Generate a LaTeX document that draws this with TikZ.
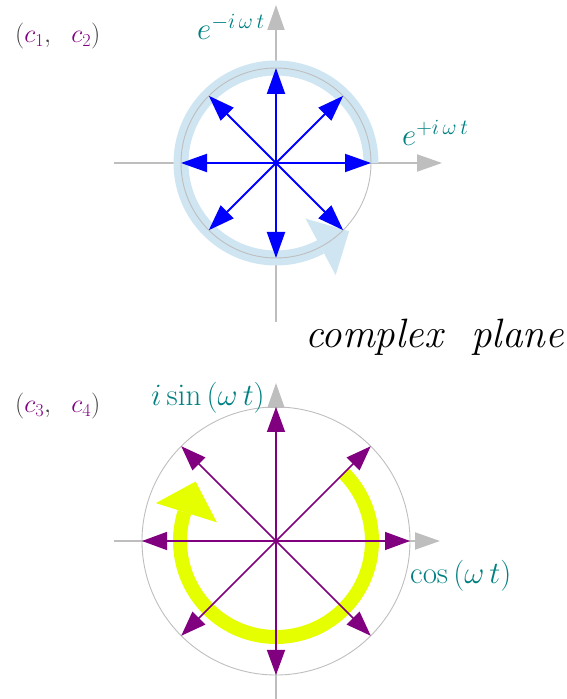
\RequirePackage{fix-cm}
\documentclass[tikz,border=0pt]{standalone}
\usepackage{amsmath,amssymb}
\usepackage{tikz}
\usetikzlibrary{arrows.meta,positioning,calc}
\definecolor{ringblue}{RGB}{207,230,242}
\definecolor{ringyellow}{RGB}{230,255,0}
\definecolor{axisgray}{RGB}{190,190,190}
\definecolor{labteal}{RGB}{0,128,128}
\definecolor{labpurple}{RGB}{128,0,128}

\begin{document}
\begin{tikzpicture}[x=1pt,y=1pt,
  axis/.style={axisgray, line width=2pt, -{Triangle[length=25pt,width=17pt]}},
  rim/.style={axisgray, line width=0.9pt},
  vecblue/.style={blue, line width=2pt, -{Triangle[length=26pt,width=18pt]}},
  vecpurple/.style={labpurple, line width=1.5pt, -{Triangle[length=25pt,width=18pt]}},
  lab/.style={text=labteal, inner sep=0pt, anchor=base west, font=\fontsize{31}{31}\selectfont},
  pair/.style={text=black!75, inner sep=0pt, anchor=base west, font=\fontsize{26}{26}\selectfont}]
\useasboundingbox (0,0) rectangle (567,699);
\begin{scope}[shift={(276,536)}]
\coordinate (o1) at (0,0);
\coordinate (w1) at (-162,0);
\coordinate (e1) at (166,0);
\coordinate (s1) at (0,-159);
\coordinate (n1) at (0,158);
\draw[axis] (w1) -- (e1);
\draw[axis] (s1) -- (n1);
\draw[ringblue, line width=15pt] (0:95) arc (0:298:95);
\fill[ringblue] (298:63) -- (298:127) -- (317:100) -- cycle;
\draw[rim] (o1) circle (95);
\foreach \a in {0,45,...,315} {
  \coordinate (t\a) at (\a:95);
  \draw[vecblue] (o1) -- (t\a);
}
\end{scope}
\begin{scope}[shift={(276,158)}]
\coordinate (o2) at (0,0);
\coordinate (w2) at (-162,0);
\coordinate (e2) at (164,0);
\coordinate (s2) at (0,-160);
\coordinate (n2) at (0,158);
\draw[axis] (w2) -- (e2);
\draw[axis] (s2) -- (n2);
\draw[ringyellow, line width=14pt] (45:96) arc (45:-197.5:96);
\fill[ringyellow] (162.5:62) -- (162.5:126) -- (143.5:100) -- cycle;
\draw[rim] (o2) circle (134);
\foreach \a in {0,45,...,315} {
  \coordinate (u\a) at (\a:134);
  \draw[vecpurple] (o2) -- (u\a);
}
\end{scope}
\node[pair] (c12) at (15,656) {$(\textcolor{labpurple}{c_1},\ \ \textcolor{labpurple}{c_2})$};
\node[lab] (eminus) at (197,659) {$e^{-i\,\omega\, t}$};
\node[lab] (eplus) at (402,553) {$e^{+i\,\omega\, t}$};
\node[inner sep=0pt, anchor=base west, font=\itshape\fontsize{41}{42}\selectfont] (title) at (305,351) {complex\ \ plane};
\node[pair] (c34) at (15,286) {$(\textcolor{labpurple}{c_3},\ \ \textcolor{labpurple}{c_4})$};
\node[lab] (isin) at (151,293) {$i\sin\,(\omega\, t)$};
\node[lab] (cosl) at (410,115) {$\cos\,(\omega\, t)$};
\end{tikzpicture}
\end{document}
